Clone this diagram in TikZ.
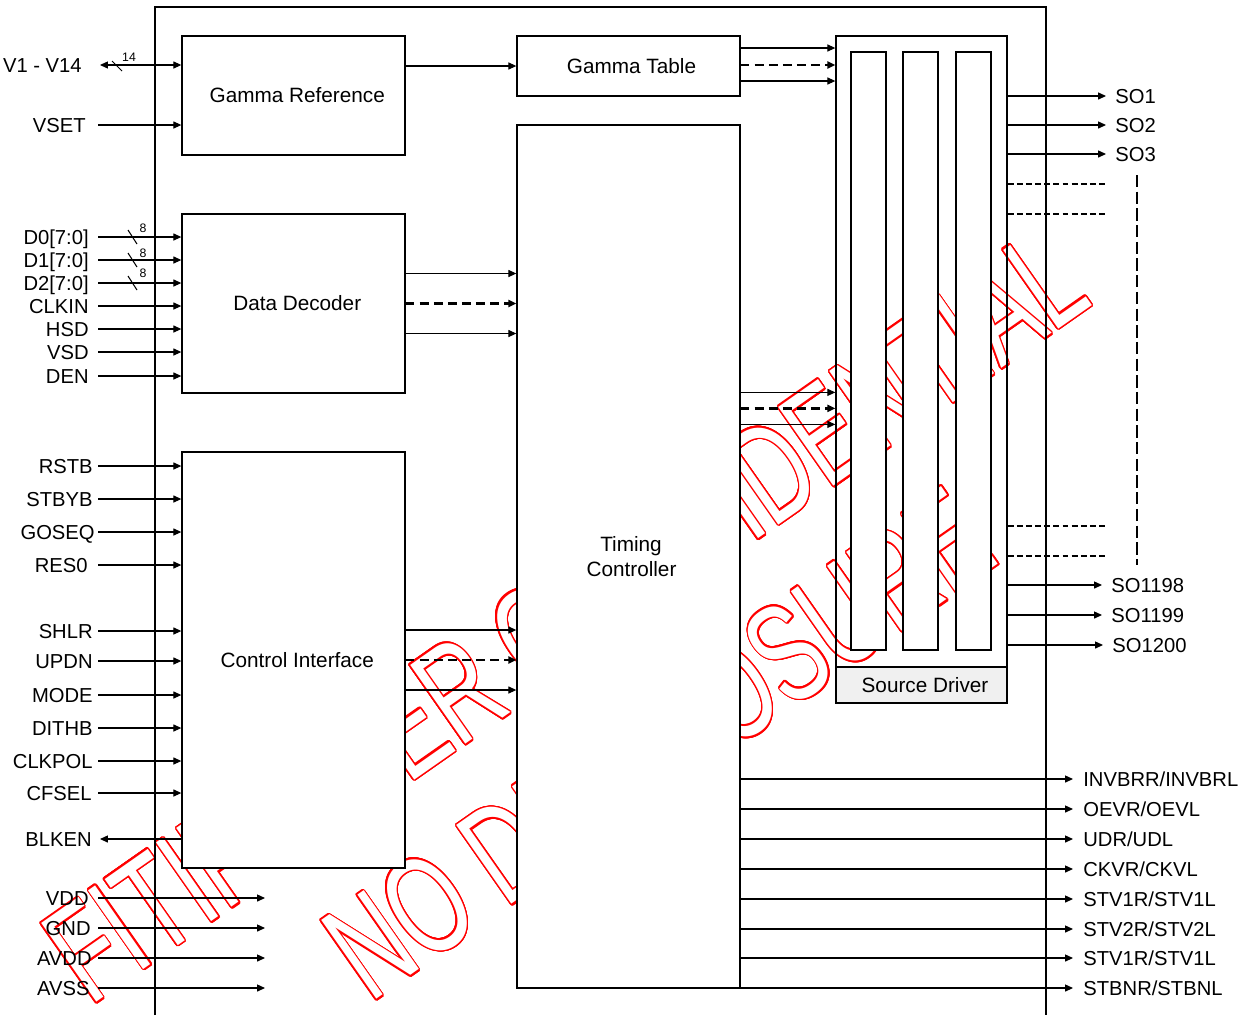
\documentclass[tikz,border=0pt]{standalone}
\usepackage{fontspec}
\setmainfont{Liberation Sans}
\usepackage[copies]{contour}
\contourlength{0.7pt}
\contournumber{24}
\usetikzlibrary{arrows.meta,calc}

\begin{document}
\begin{tikzpicture}[x=0.02cm,y=-0.02cm,font=\fontsize{11.5}{14}\selectfont,
    >={Triangle[length=4.5pt,width=4pt]},
    blk/.style={draw,line width=0.8pt,fill=white,inner sep=0pt,font=\fontsize{11.8}{14.2}\selectfont},
    lbl/.style={inner sep=0pt,text height=8.2pt,text depth=0pt},
    num/.style={inner sep=0pt,font=\fontsize{7}{8}\selectfont},
    sig/.style={line width=0.6pt,->},
    bus/.style={line width=1.3pt,dash pattern=on 5pt off 3pt,->},
    more/.style={line width=1pt,dash pattern=on 3.4pt off 1.8pt},
    wmark/.style={text=white,inner sep=0pt,anchor=base west,rotate=35,yscale=1.5,
      font=\fontsize{53}{53}\selectfont}]
  \useasboundingbox (0,0) rectangle (1247,1015);
  % watermark, below the blocks
  \node[wmark] (wm1) at (90,1007) {\contour{red}{FITIPOWER CONFIDENTIAL}};
  \node[wmark] (wm2) at (370,1004) {\contour{red}{NO DISCLOSURE}};
  % chip outline
  \draw[line width=0.8pt] (155,1015) |- (1046,7) -- (1046,1015);
  % blocks (text sits a little right of centre)
  \node[blk,minimum width=4.46cm,minimum height=2.38cm] (gref) at (293.5,95.5) {\hspace*{0.15cm}Gamma Reference};
  \node[blk,minimum width=4.46cm,minimum height=1.2cm] (gtab) at (628.5,66) {\hspace*{0.12cm}Gamma Table};
  \node[blk,minimum width=4.46cm,minimum height=3.58cm] (ddec) at (293.5,303.5) {\hspace*{0.15cm}Data Decoder};
  \node[blk,minimum width=4.46cm,minimum height=8.32cm] (ctrl) at (293.5,660) {\hspace*{0.15cm}Control Interface};
  \node[blk,minimum width=4.46cm,minimum height=17.26cm,align=center] (tcon) at (628.5,556.5)
    {\hspace*{0.1cm}Timing\\\hspace*{0.12cm}Controller};
  % source driver: frame, three bars, label strip
  \node[draw,line width=0.8pt,inner sep=0pt,minimum width=3.42cm,minimum height=13.34cm] (sdrv) at (921.5,369.5) {};
  \foreach \x [count=\i] in {868.5,920.5,973.5}
    \node[blk,minimum width=0.7cm,minimum height=11.96cm] (bar\i) at (\x,351) {};
  \node[blk,fill=gray!12,minimum width=3.42cm,minimum height=0.72cm] (sdlbl) at (921.5,685) {\hspace*{0.14cm}Source Driver};

  % gamma inputs
  \node[lbl,anchor=east] (vin) at (82,65) {V1 - V14};
  \draw[line width=0.6pt,<->] (vin.east) ++(18,0) -- (vin -| gref.west);
  \draw[line width=0.6pt] (112,61) -- (122,71);
  \node[num] (n14) at (129,57) {14};
  \node[lbl,anchor=east] (vset) at (86,125) {VSET};
  \draw[sig] (vset.east) ++(12,0) -- (vset -| gref.west);

  % data inputs
  \foreach \t/\y [count=\i] in {D0[7:0]/237,D1[7:0]/260,D2[7:0]/283,CLKIN/306,HSD/329,VSD/352,DEN/376}
  {
    \node[lbl,anchor=east] (dp\i) at (89,\y) {\t};
    \draw[sig] (dp\i.east) ++(9,0) -- (dp\i -| ddec.west);
  }
  \foreach \y/\n [count=\i] in {237/228,260/253,283/273}
  {
    \draw[line width=0.6pt] (128,\y-7) -- (137,\y+7);
    \node[num] (w\i) at (143,\n) {8};
  }

  % control inputs
  \foreach \t/\y/\x [count=\i] in {RSTB/466/93,STBYB/499/93,GOSEQ/532/95,RES0/565/88,SHLR/631/93,
      UPDN/661/93,MODE/695/93,DITHB/728/93,CLKPOL/761/93,CFSEL/793/92}
  {
    \node[lbl,anchor=east] (cp\i) at (\x,\y) {\t};
    \draw[sig] (cp\i.east) ++({98-\x},0) -- (cp\i -| ctrl.west);
  }
  \node[lbl,anchor=east] (blk) at (92,839) {BLKEN};
  \draw[sig] (blk -| ctrl.west) -- ($(blk.east)+(8,0)$);

  % supplies
  \foreach \t/\y/\x [count=\i] in {VDD/898/89,GND/928/91,AVDD/958/92,AVSS/988/90}
  {
    \node[lbl,anchor=east] (pl\i) at (\x,\y) {\t};
    \coordinate (pw\i) at (265,\y);
    \draw[sig] (pl\i.east) ++({98-\x},0) -- (pw\i);
  }

  % internal buses
  \draw[sig] (gref.east |- gtab) -- (gtab.west);
  \foreach \dy/\s in {-18/sig,-1/bus,15/sig}
    \draw[\s] ($(gtab.east)+(0,\dy)$) -- ($(gtab.east -| sdrv.west)+(0,\dy)$);
  \foreach \dy/\s in {-30/sig,0/bus,30/sig}
  {
    \draw[\s] ($(ddec.east)+(0,\dy)$) -- ($(ddec.east -| tcon.west)+(0,\dy)$);
    \draw[\s] ($(ctrl.east)+(0,\dy)$) -- ($(ctrl.east -| tcon.west)+(0,\dy)$);
  }
  \foreach \dy/\s in {268/sig,284/bus,300/sig}
    \draw[\s] ($(tcon.north east)+(0,\dy)$) -- ($(tcon.north east -| sdrv.west)+(0,\dy)$);

  % source outputs
  \foreach \t/\y/\x [count=\i] in {SO1/96/1115,SO2/125/1115,SO3/154/1115,SO1198/585/1111,SO1199/615/1111,SO1200/645/1112}
  {
    \node[lbl,anchor=west] (so\i) at (\x,\y) {\t};
    \draw[sig] (sdrv.east |- so\i) -- ($(so\i.west)+(-9,0)$);
  }
  \foreach \y [count=\i] in {184,214,526,556}
  {
    \coordinate (dd\i) at (1107,\y);
    \draw[more] (sdrv.east |- dd\i) -- (dd\i);
  }
  \coordinate (vt) at (1137,175);
  \coordinate (vb) at (1137,565);
  \draw[line width=1pt,dash pattern=on 7pt off 2.5pt] (vt) -- (vb);

  % gate control outputs
  \foreach \y/\t [count=\i] in {779/{INVBRR/INVBRL},809/{OEVR/OEVL},839/{UDR/UDL},869/{CKVR/CKVL},
      899/{STV1R/STV1L},929/{STV2R/STV2L},958/{STV1R/STV1L},988/{STBNR/STBNL}}
  {
    \node[lbl,anchor=west] (to\i) at (1083,\y) {\t};
    \draw[sig] (tcon.east |- to\i) -- ($(to\i.west)+(-10,0)$);
  }
\end{tikzpicture}
\end{document}
